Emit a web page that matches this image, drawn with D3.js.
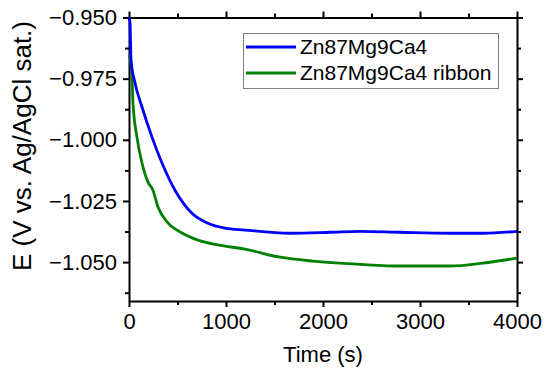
<!DOCTYPE html>
<html>
<head>
<meta charset="utf-8">
<script src="https://cdn.jsdelivr.net/npm/d3@7"></script>
<style>
  body { margin: 0; background: #fff; }
  svg text { font-family: "Liberation Sans", Arial, sans-serif; fill: #000; }
</style>
</head>
<body>
<div id="chart"></div>
<script>
// values
const seriesNames = ["Zn87Mg9Ca4", "Zn87Mg9Ca4 ribbon"]
const timeBlue = [0, 10, 21, 62, 134, 237, 340, 474, 649, 814, 990, 1196, 1660, 2072, 2381, 2794, 3309, 3649, 4000]
const potBlue = [-0.950, -0.9518, -0.9674, -0.9768, -0.9866, -0.9989, -1.0095, -1.0206, -1.0300, -1.0341, -1.0361, -1.0369, -1.0382, -1.0378, -1.0374, -1.0378, -1.0382, -1.0382, -1.0374]
const timeGreen = [0, 10, 31, 41, 82, 134, 196, 247, 299, 402, 546, 711, 918, 1196, 1557, 1897, 2381, 2794, 3309, 3649, 4000]
const potGreen = [-0.9653, -0.9666, -0.9743, -0.9850, -0.9989, -1.0095, -1.0173, -1.0206, -1.0275, -1.0340, -1.0381, -1.0410, -1.0430, -1.0447, -1.0480, -1.0496, -1.0509, -1.0516, -1.0516, -1.0504, -1.0484]
const xTicks = [0, 1000, 2000, 3000, 4000]
const yTicks = [-0.950, -0.975, -1.000, -1.025, -1.050]

const width = 550, height = 380
const margin = { top: 17.5, right: 33, bottom: 79, left: 129 }

const svg = d3.select("#chart").append("svg")
  .attr("width", width)
  .attr("height", height)

const x = d3.scaleLinear().domain([0, 4000]).range([margin.left, width - margin.right])
const y = d3.scaleLinear().domain([-1.0659, -0.950]).range([height - margin.bottom, margin.top])

const fmtY = d3.format(".3f")

// minor ticks
const xMinor = d3.range(500, 4000, 1000)
const yMinor = d3.range(-0.9625, -1.066, -0.025)

function drawAxis(g, axis) {
  g.call(axis)
  g.select(".domain").attr("stroke-width", 2)
  g.selectAll(".tick line").attr("stroke-width", 2)
}

const xb = svg.append("g").attr("transform", `translate(0,${y.range()[0]})`)
drawAxis(xb, d3.axisBottom(x).tickValues(xTicks).tickSize(6).tickSizeOuter(0).tickPadding(6).tickFormat(d3.format("d")))
xb.selectAll(".tick text").attr("font-size", 22)
svg.append("g").attr("transform", `translate(0,${y.range()[0]})`)
  .call(g => drawAxis(g, d3.axisBottom(x).tickValues(xMinor).tickSize(4).tickFormat("")))
  .select(".domain").remove()

const xt = svg.append("g").attr("transform", `translate(0,${y.range()[1]})`)
drawAxis(xt, d3.axisTop(x).tickValues(xTicks).tickSize(6).tickSizeOuter(0).tickFormat(""))
svg.append("g").attr("transform", `translate(0,${y.range()[1]})`)
  .call(g => drawAxis(g, d3.axisTop(x).tickValues(xMinor).tickSize(4).tickFormat("")))
  .select(".domain").remove()

const yl = svg.append("g").attr("transform", `translate(${x.range()[0]},0)`)
drawAxis(yl, d3.axisLeft(y).tickValues(yTicks).tickSize(6).tickSizeOuter(0).tickPadding(6).tickFormat(fmtY))
yl.selectAll(".tick text").attr("font-size", 22)
svg.append("g").attr("transform", `translate(${x.range()[0]},0)`)
  .call(g => drawAxis(g, d3.axisLeft(y).tickValues(yMinor).tickSize(4).tickFormat("")))
  .select(".domain").remove()

const yr = svg.append("g").attr("transform", `translate(${x.range()[1]},0)`)
drawAxis(yr, d3.axisRight(y).tickValues(yTicks).tickSize(6).tickSizeOuter(0).tickFormat(""))
svg.append("g").attr("transform", `translate(${x.range()[1]},0)`)
  .call(g => drawAxis(g, d3.axisRight(y).tickValues(yMinor).tickSize(4).tickFormat("")))
  .select(".domain").remove()

// curves
const line = d3.line().x(d => x(d[0])).y(d => y(d[1])).curve(d3.curveMonotoneX)
const blue = d3.zip(timeBlue, potBlue)
const green = d3.zip(timeGreen, potGreen)

svg.append("path").datum(green)
  .attr("fill", "none").attr("stroke", "#008000").attr("stroke-width", 2.8)
  .attr("d", line)
svg.append("path").datum(blue)
  .attr("fill", "none").attr("stroke", "#0000ff").attr("stroke-width", 2.8)
  .attr("d", line)

// axis titles
svg.append("text")
  .attr("x", (x.range()[0] + x.range()[1]) / 2)
  .attr("y", 362)
  .attr("text-anchor", "middle")
  .attr("font-size", 22)
  .text("Time (s)")

svg.append("text")
  .attr("transform", "translate(31,146) rotate(-90)")
  .attr("text-anchor", "middle")
  .attr("font-size", 26)
  .text("E (V vs. Ag/AgCl sat.)")

// legend
const legend = svg.append("g")
legend.append("rect")
  .attr("x", 243.5).attr("y", 33.5).attr("width", 255).attr("height", 55)
  .attr("fill", "#fff").attr("stroke", "#808080").attr("stroke-width", 1)
const colors = ["#0000ff", "#008000"]
seriesNames.forEach((name, i) => {
  const ly = 47 + i * 26
  legend.append("line")
    .attr("x1", 246).attr("x2", 296).attr("y1", ly).attr("y2", ly)
    .attr("stroke", colors[i]).attr("stroke-width", 2.8)
  legend.append("text")
    .attr("x", 300).attr("y", ly + 7)
    .attr("font-size", 21)
    .text(name)
})
</script>
</body>
</html>
